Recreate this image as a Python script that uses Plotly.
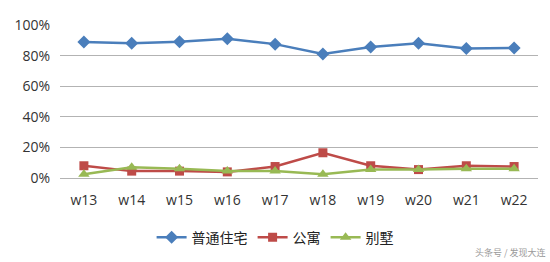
import plotly.graph_objects as go

weeks = ["w13", "w14", "w15", "w16", "w17", "w18", "w19", "w20", "w21", "w22"]
putong = [0.889, 0.880, 0.890, 0.910, 0.875, 0.810, 0.856, 0.880, 0.846, 0.850]
gongyu = [0.080, 0.045, 0.045, 0.040, 0.075, 0.165, 0.080, 0.055, 0.080, 0.075]
bieshu = [0.025, 0.070, 0.060, 0.045, 0.045, 0.025, 0.055, 0.055, 0.060, 0.060]
series_names = ["普通住宅", "公寓", "别墅"]
y_ticks = [0, 0.2, 0.4, 0.6, 0.8, 1.0]

fig = go.Figure()
fig.add_trace(go.Scatter(x=weeks, y=putong, name=series_names[0], mode="lines+markers",
                         line=dict(color="#4A7EBB", width=2.5),
                         marker=dict(symbol="diamond", size=10, color="#4A7EBB")))
fig.add_trace(go.Scatter(x=weeks, y=gongyu, name=series_names[1], mode="lines+markers",
                         line=dict(color="#BE4B48", width=2.5),
                         marker=dict(symbol="square", size=9, color="#BE4B48")))
fig.add_trace(go.Scatter(x=weeks, y=bieshu, name=series_names[2], mode="lines+markers",
                         line=dict(color="#98B954", width=2.5),
                         marker=dict(symbol="triangle-up", size=10, color="#98B954")))

fig.update_layout(
    width=550, height=262,
    margin=dict(l=60, r=12, t=25, b=84, autoexpand=False),
    paper_bgcolor="white", plot_bgcolor="white",
    font=dict(family="Open Sans, Noto Sans CJK SC", size=14, color="#333333"),
    legend=dict(orientation="h", x=0.45, xanchor="center",
                y=-0.39, yanchor="middle",
                font=dict(size=14, family="Noto Sans CJK SC", color="#222222"),
                traceorder="normal"),
    xaxis=dict(type="category", showgrid=False, showline=False, tickangle=0,
               ticks="outside", ticklen=9, tickcolor="rgba(0,0,0,0)",
               tickfont=dict(size=14, color="#333333"), range=[-0.5, 9.5]),
    yaxis=dict(range=[0, 1.0], tickvals=y_ticks, tickformat=".0%",
               showgrid=True, gridcolor="#B3B3B3", gridwidth=1,
               zeroline=True, zerolinecolor="#B3B3B3", zerolinewidth=1,
               ticks="outside", ticklen=6, tickcolor="rgba(0,0,0,0)",
               tickfont=dict(size=14, color="#333333")),
)
fig.add_annotation(text="头条号 / 发现大连", xref="paper", yref="paper",
                   x=1.02, y=-0.49, xanchor="right", yanchor="middle", showarrow=False,
                   font=dict(size=9, color="#9A9A9A", family="Noto Sans CJK SC"))

fig.write_html("out.html")
